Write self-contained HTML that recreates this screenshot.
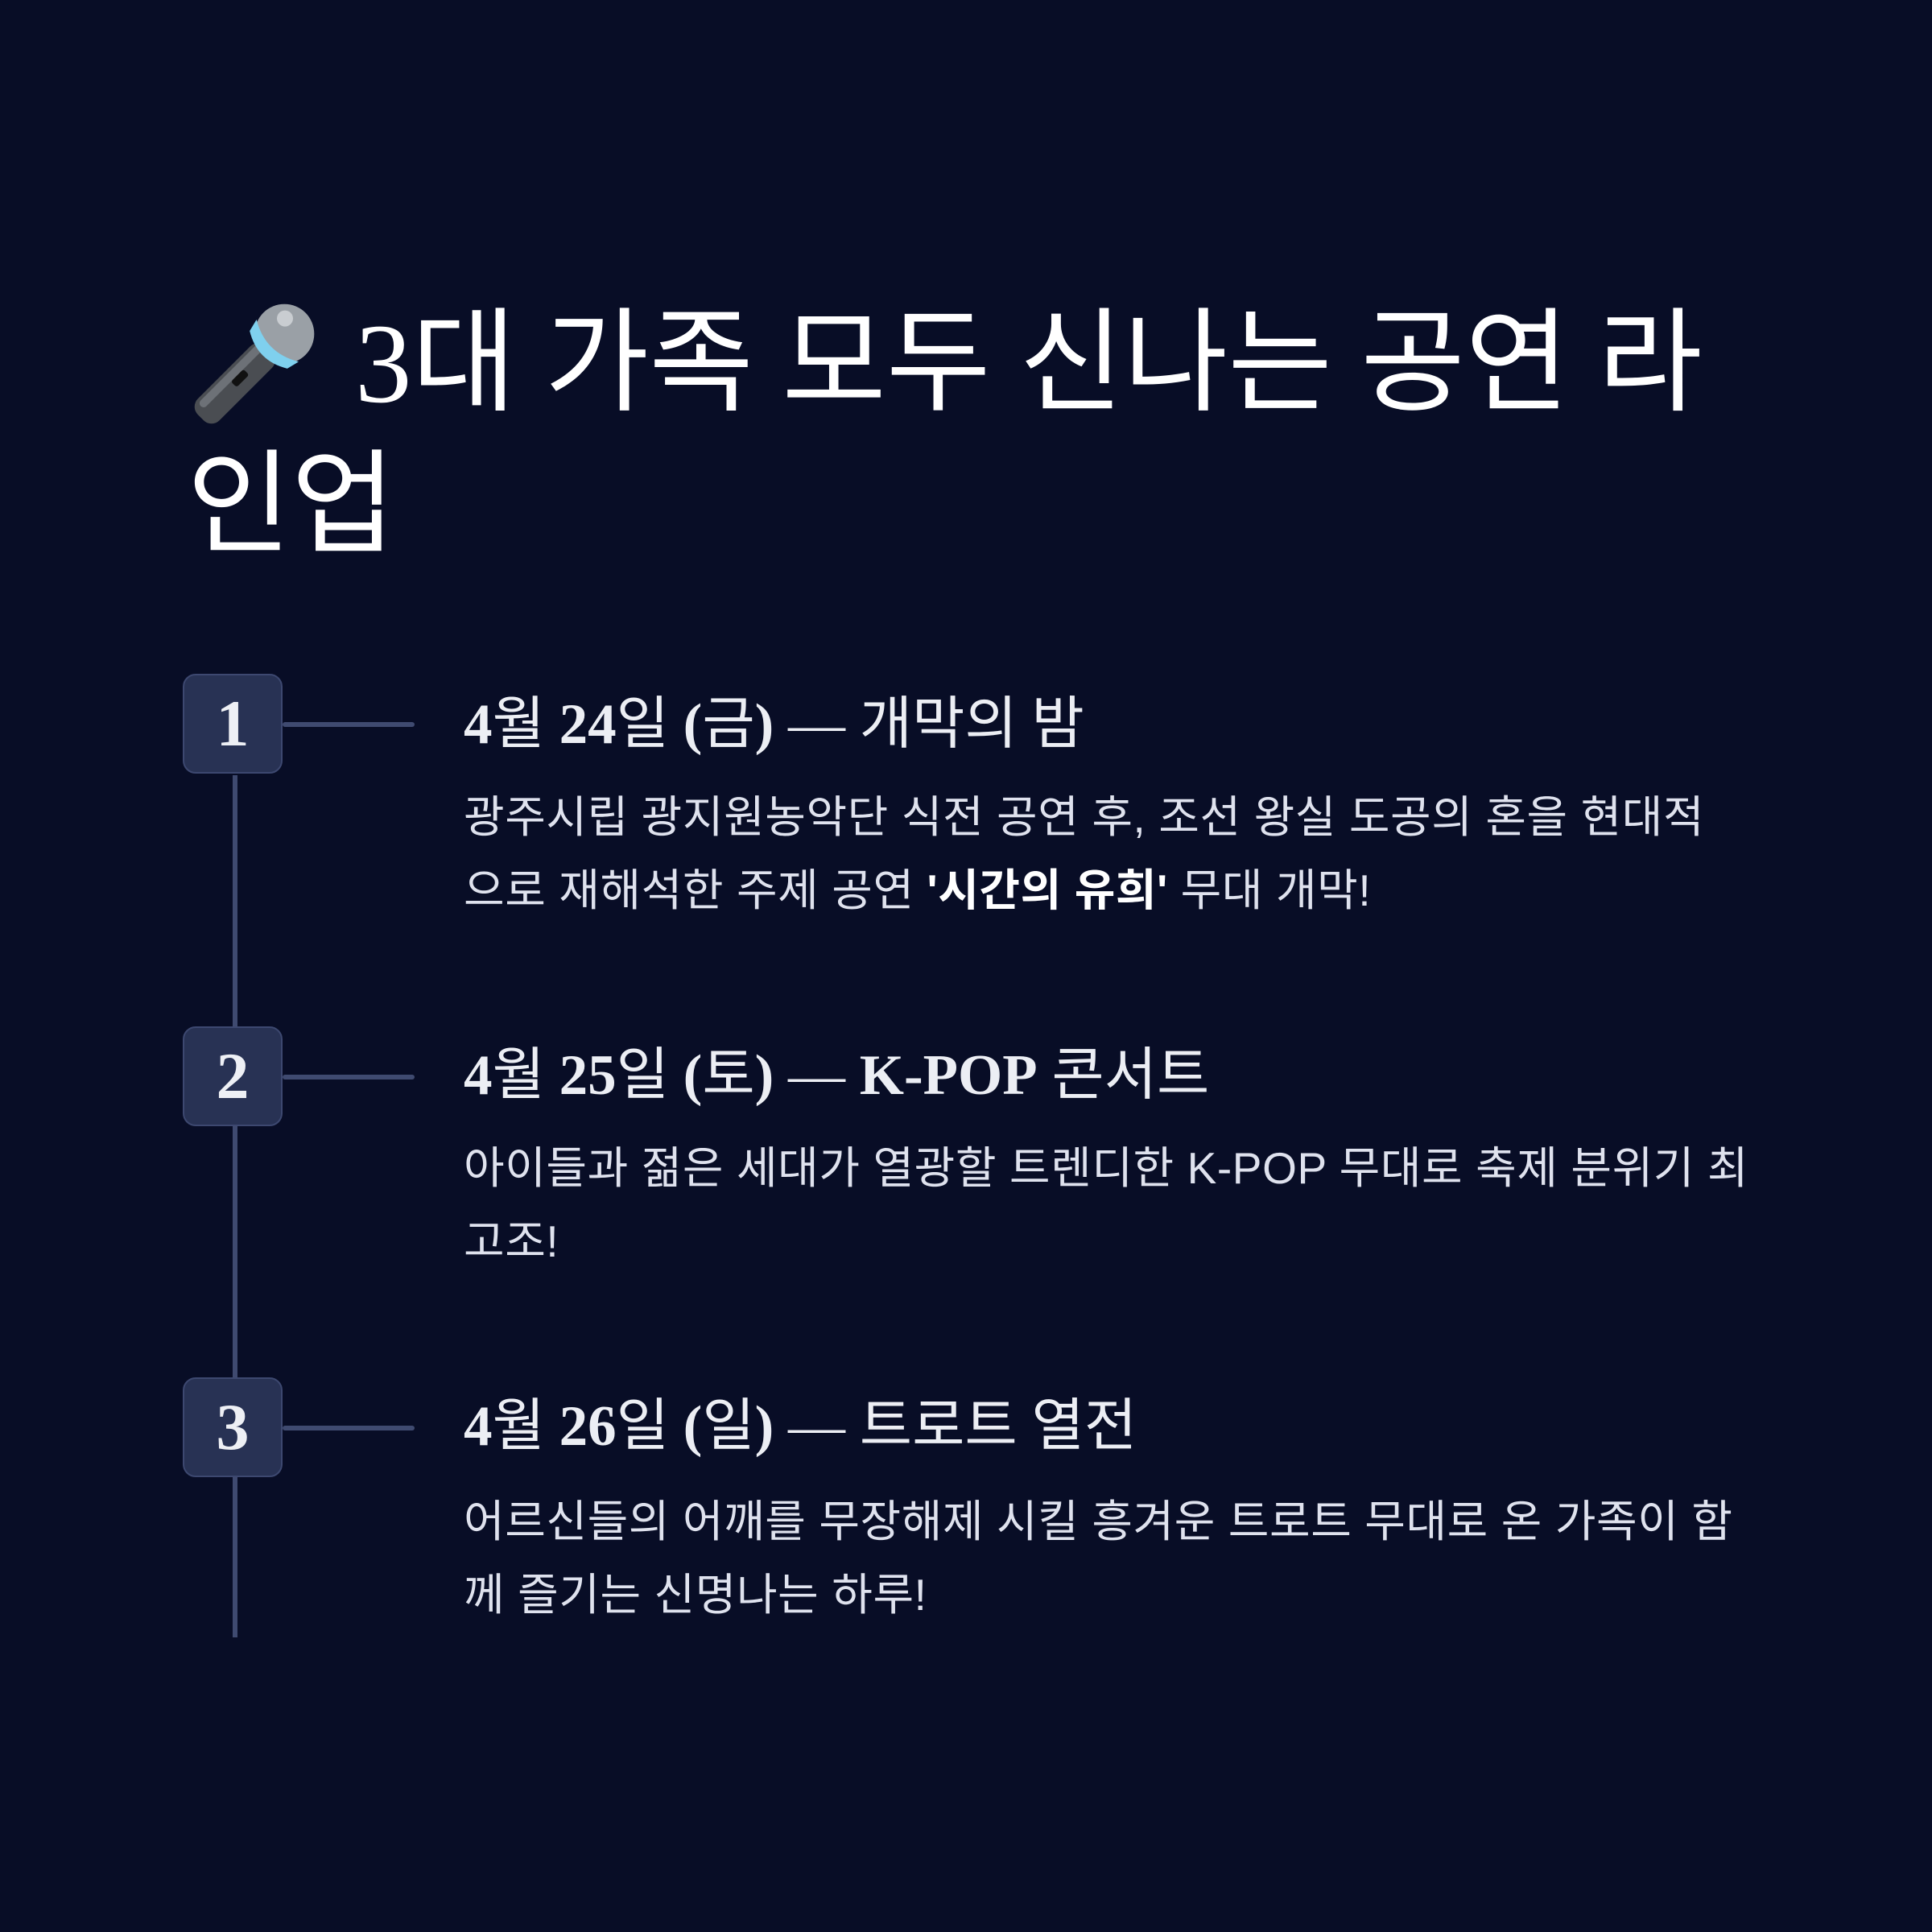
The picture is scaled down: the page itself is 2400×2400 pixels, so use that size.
<!DOCTYPE html>
<html><head><meta charset="utf-8"><style>
html,body{margin:0;padding:0;background:#080d26;}
#c{position:relative;width:2400px;height:2400px;background:#080d26;overflow:hidden;font-family:"Liberation Sans","Noto Sans CJK KR",sans-serif;color:#fff;}
.t{position:absolute;font-size:141px;line-height:176px;white-space:nowrap;color:#fff;font-family:"Liberation Serif","Noto Sans CJK KR",sans-serif;}
.box{position:absolute;left:227px;width:124px;height:124px;border-radius:16px;background:#283254;border:2px solid #3d4870;box-sizing:border-box;color:#eef0f5;font-family:"Liberation Serif",serif;font-weight:bold;font-size:82px;line-height:120px;text-align:center;}
.h{position:absolute;left:576px;font-size:71px;line-height:90px;white-space:nowrap;color:#eceef4;font-family:"Liberation Serif","Noto Sans CJK KR",serif;}
.h b{font-weight:bold;}
.p{position:absolute;left:576px;font-size:55px;line-height:91px;letter-spacing:0.6px;white-space:nowrap;color:#dfe2ee;font-family:"Liberation Sans","Noto Sans CJK KR",sans-serif;}
.p b{color:#fff;font-weight:bold;}
.v{position:absolute;left:289px;width:6px;background:#3f4a70;}
.hz{position:absolute;left:351px;width:164px;height:6px;border-radius:3px;background:#3f4a70;}
</style></head><body><div id="c">
<svg style="position:absolute;left:228px;top:370px" width="170" height="170" viewBox="0 0 170 170">
<g transform="rotate(45 85 85)">
<rect x="66" y="55" width="38" height="120" rx="14" fill="#4a4d52"/>
<rect x="70" y="60" width="10" height="105" rx="5" fill="#6d7177"/>
<rect x="80" y="95" width="10" height="22" rx="3" fill="#111"/>
<circle cx="85" cy="28" r="37" fill="#9aa0a6"/>
<path d="M48 40 Q85 62 122 40 L118 56 Q85 76 52 56 Z" fill="#7fd0ee"/>
<circle cx="72" cy="14" r="10" fill="#c9cdd1"/>
</g></svg>
<div class="t" style="left:441px;top:364px">3대 가족 모두 신나는 공연 라</div>
<div class="t" style="left:232px;top:540px">인업</div>

<div class="v" style="top:963px;height:312px"></div>
<div class="v" style="top:1399px;height:312px"></div>
<div class="v" style="top:1835px;height:199px"></div>

<div class="box" style="top:837px">1</div>
<div class="hz" style="top:897px"></div>
<div class="h" style="top:855px"><b>4</b>월 <b>24</b>일 <b>(</b>금<b>)</b> — 개막의 밤</div>
<div class="p" style="top:970px">광주시립 광지원농악단 식전 공연 후, 조선 왕실 도공의 혼을 현대적<br>으로 재해석한 주제 공연 <b>'시간의 유희'</b> 무대 개막!</div>

<div class="box" style="top:1275px">2</div>
<div class="hz" style="top:1335px"></div>
<div class="h" style="top:1291px"><b>4</b>월 <b>25</b>일 <b>(</b>토<b>)</b> — <b>K-POP</b> 콘서트</div>
<div class="p" style="top:1406px">아이들과 젊은 세대가 열광할 트렌디한 K-POP 무대로 축제 분위기 최<br>고조!</div>

<div class="box" style="top:1711px">3</div>
<div class="hz" style="top:1771px"></div>
<div class="h" style="top:1727px"><b>4</b>월 <b>26</b>일 <b>(</b>일<b>)</b> — 트로트 열전</div>
<div class="p" style="top:1845px">어르신들의 어깨를 무장해제 시킬 흥겨운 트로트 무대로 온 가족이 함<br>께 즐기는 신명나는 하루!</div>
</div></body></html>
